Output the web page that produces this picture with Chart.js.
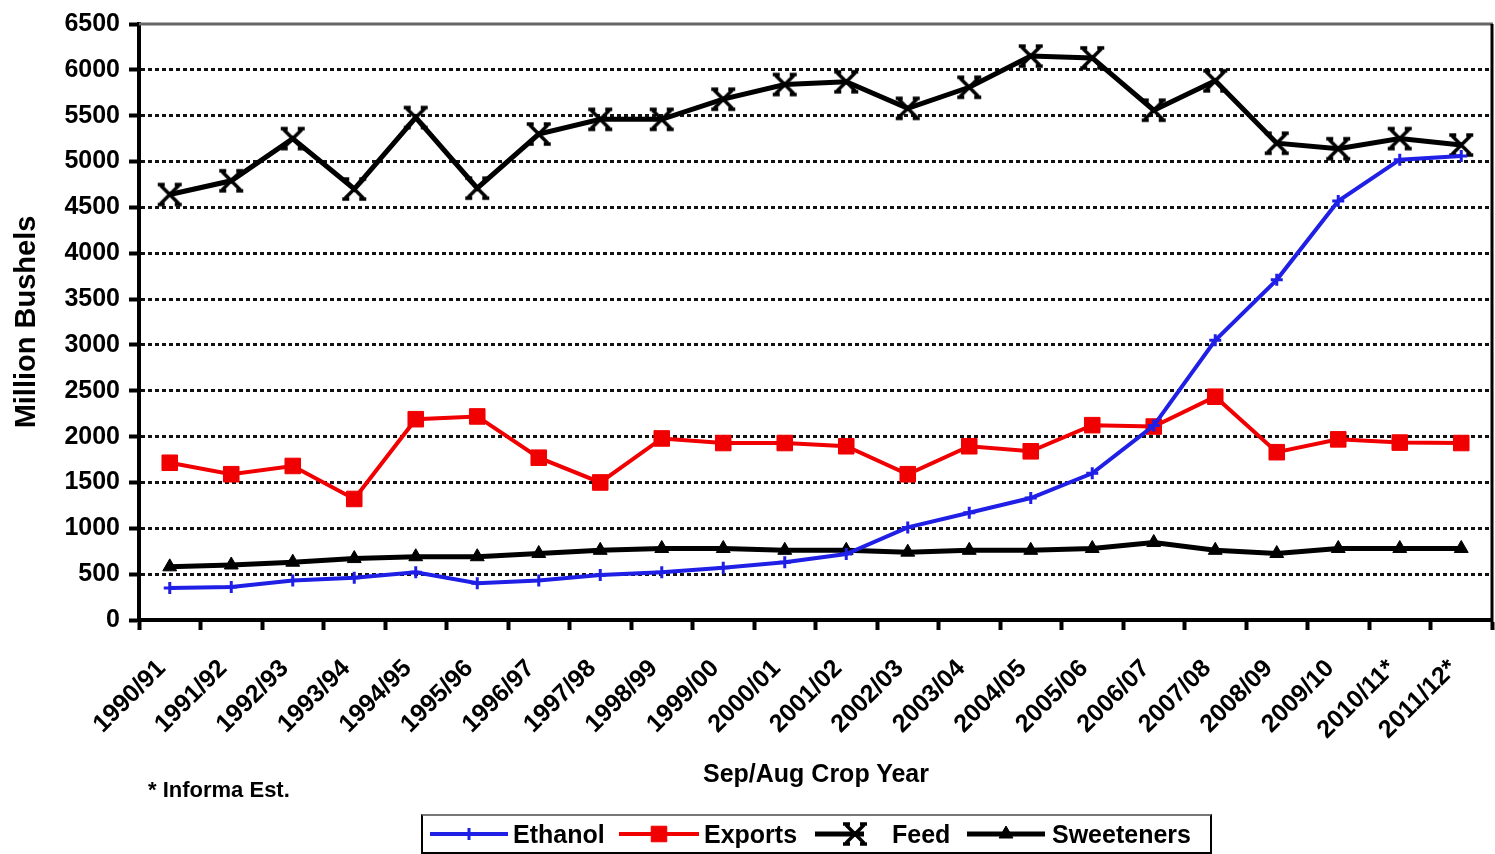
<!DOCTYPE html>
<html>
<head>
<meta charset="utf-8">
<script src="https://cdn.jsdelivr.net/npm/chart.js@4.4.1/dist/chart.umd.min.js"></script>
<style>
  html, body { margin: 0; padding: 0; background: #fff; }
  #wrap { position: relative; width: 1495px; height: 854px; overflow: hidden;
          font-family: "Liberation Sans", Arial, sans-serif; font-weight: bold; color: #000; }
  #chart { position: absolute; left: 0; top: 0; }
  .txt { position: absolute; white-space: nowrap; }
  #xtitle { left: 516px; width: 600px; top: 758px; line-height: 30px; font-size: 25px; text-align: center; }
  #note { left: 148px; top: 776px; line-height: 28px; font-size: 22px; }
  #legend { position: absolute; left: 421px; top: 814px; width: 787px; height: 36px;
            border: 2px solid #000; border-top-color: #777; }
  #legend canvas { position: absolute; top: 0; }
  #legend span { position: absolute; top: 0; line-height: 36px; font-size: 25px; }
</style>
</head>
<body>
<div id="wrap">
  <canvas id="chart" width="1495" height="854"></canvas>
  <div class="txt" id="xtitle">Sep/Aug Crop Year</div>
  <div class="txt" id="note">* Informa Est.</div>
  <div id="legend"></div>
</div>
<script>
var cropYears = ['1990/91', '1991/92', '1992/93', '1993/94', '1994/95', '1995/96', '1996/97', '1997/98',
  '1998/99', '1999/00', '2000/01', '2001/02', '2002/03', '2003/04', '2004/05', '2005/06', '2006/07',
  '2007/08', '2008/09', '2009/10', '2010/11*', '2011/12*'];

var ethanol = [350, 360, 430, 460, 520, 400, 430, 490, 520, 570, 630, 720, 1010, 1170, 1330, 1600, 2120, 3050, 3710, 4570, 5020, 5060];
var exportsUse = [1715, 1590, 1680, 1320, 2190, 2220, 1770, 1500, 1980, 1930, 1930, 1895, 1590, 1895, 1840, 2125, 2110, 2435, 1830, 1970, 1935, 1930];
var feed = [4640, 4790, 5250, 4700, 5480, 4710, 5300, 5460, 5460, 5680, 5840, 5870, 5580, 5810, 6150, 6130, 5560, 5880, 5200, 5140, 5250, 5180];
var sweeteners = [580, 600, 630, 670, 690, 690, 725, 760, 780, 780, 760, 760, 740, 760, 760, 780, 845, 760, 725, 780, 780, 780];

var yTickLabels = ['0', '500', '1000', '1500', '2000', '2500', '3000', '3500', '4000', '4500', '5000', '5500', '6000', '6500'];
var yStep = 500;

// feed marker: an X with short serifs top and bottom
function feedMarker() {
  var c = document.createElement('canvas');
  c.width = 28; c.height = 26;
  var g = c.getContext('2d');
  g.strokeStyle = '#000';
  g.lineWidth = 3.5;
  g.beginPath();
  g.moveTo(5, 4); g.lineTo(23, 22);
  g.moveTo(23, 4); g.lineTo(5, 22);
  g.moveTo(2, 3); g.lineTo(9, 3);
  g.moveTo(19, 3); g.lineTo(26, 3);
  g.moveTo(2, 23); g.lineTo(9, 23);
  g.moveTo(19, 23); g.lineTo(26, 23);
  g.stroke();
  return c;
}
var feedPoint = feedMarker();

var series = [
  {label: 'Ethanol', data: ethanol, color: '#1f1fe6', width: 4, style: 'cross', radius: 6, pw: 3},
  {label: 'Exports', data: exportsUse, color: '#f00000', width: 4, style: 'rect', radius: 11, pw: 1},
  {label: 'Feed', data: feed, color: '#000', width: 5, style: feedPoint, radius: 12, pw: 1},
  {label: 'Sweeteners', data: sweeteners, color: '#000', width: 5, style: 'triangle', radius: 8, pw: 1}
];

var frame = {
  id: 'frame',
  afterDraw: function(chart) {
    var a = chart.chartArea, c = chart.ctx;
    c.save();
    c.lineWidth = 3;
    c.strokeStyle = '#666';
    c.beginPath(); c.moveTo(a.left, a.top); c.lineTo(a.right + 1, a.top); c.stroke();
    c.strokeStyle = '#000';
    c.beginPath(); c.moveTo(a.right, a.top); c.lineTo(a.right, a.bottom + 2); c.stroke();
    c.restore();
  }
};

new Chart(document.getElementById('chart'), {
  type: 'line',
  data: {
    labels: cropYears,
    datasets: series.map(function(s) {
      return {
        label: s.label,
        data: s.data,
        borderColor: s.color,
        backgroundColor: s.color,
        borderWidth: s.width,
        tension: 0,
        pointStyle: s.style,
        pointRadius: s.radius,
        pointBorderWidth: s.pw,
        pointBackgroundColor: s.color,
        pointBorderColor: s.color
      };
    })
  },
  options: {
    responsive: false,
    devicePixelRatio: 1,
    animation: false,
    layout: {autoPadding: false, padding: {left: 0, right: 3, top: 17, bottom: 0}},
    plugins: {legend: {display: false}, tooltip: {enabled: false}},
    scales: {
      x: {
        offset: true,
        grid: {offset: true, drawOnChartArea: false, tickLength: 10, tickWidth: 4, tickColor: '#000'},
        border: {display: true, color: '#000', width: 4},
        ticks: {
          autoSkip: false, minRotation: 45, maxRotation: 45, padding: 24, labelOffset: -8, color: '#000',
          font: {family: 'Liberation Sans', size: 25, weight: 'bold'}
        },
        afterFit: function(scale) {
          scale.height = 234;
          scale.paddingLeft = 0;
          scale.paddingRight = 0;
        }
      },
      y: {
        min: 0,
        max: 6500,
        grid: {
          color: function(ctx) {
            var v = ctx.tick ? ctx.tick.value : 0;
            return (v === 0 || v === 6500) ? 'rgba(0,0,0,0)' : '#111';
          },
          lineWidth: 3,
          tickLength: 10,
          tickWidth: 4,
          tickColor: '#000',
          tickBorderDash: []
        },
        border: {display: true, color: '#000', width: 4, dash: [4, 3]},
        ticks: {
          stepSize: yStep,
          padding: 9,
          color: '#000',
          font: {family: 'Liberation Sans', size: 25, weight: 'bold'},
          callback: function(value) { return yTickLabels[Math.round(value / yStep)]; }
        },
        title: {
          display: true,
          text: 'Million Bushels',
          color: '#000',
          padding: {top: 10, bottom: 0},
          font: {family: 'Liberation Sans', size: 29, weight: 'bold'}
        },
        afterFit: function(scale) { scale.width = 139; }
      }
    }
  },
  plugins: [frame]
});

// legend: line with marker, then name
var legendPos = [
  {line: [7, 85], text: 90},
  {line: [196, 276], text: 281},
  {line: [392, 441], text: 469, marker: 432},
  {line: [544, 622], text: 629}
];
var legendBox = document.getElementById('legend');
series.forEach(function(s, i) {
  var p = legendPos[i];
  var w = p.line[1] - p.line[0];
  var cv = document.createElement('canvas');
  cv.width = w + 14; cv.height = 36;
  cv.style.left = p.line[0] + 'px';
  var g = cv.getContext('2d');
  g.strokeStyle = s.color; g.fillStyle = s.color; g.lineWidth = s.width;
  g.beginPath(); g.moveTo(0, 18); g.lineTo(w, 18); g.stroke();
  var mx = p.marker ? p.marker - p.line[0] : w / 2;
  if (typeof s.style === 'string') {
    g.lineWidth = s.pw;
    Chart.helpers.drawPoint(g, {pointStyle: s.style, radius: s.radius, rotation: 0, borderWidth: s.pw}, mx, 18);
  } else {
    g.drawImage(s.style, mx - s.style.width / 2, 18 - s.style.height / 2);
  }
  legendBox.appendChild(cv);
  var sp = document.createElement('span');
  sp.textContent = s.label;
  sp.style.left = p.text + 'px';
  legendBox.appendChild(sp);
});
</script>
</body>
</html>
